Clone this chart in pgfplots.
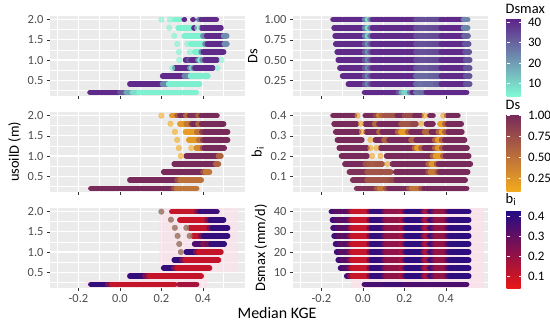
\documentclass[border=0pt]{standalone}
\usepackage{pgfplots}
\pgfplotsset{compat=1.18}
\usepackage{fontspec}
\setmainfont{Carlito}
\definecolor{panelbg}{RGB}{235,235,235}
\definecolor{ticktext}{RGB}{77,77,77}
\definecolor{tickline}{RGB}{51,51,51}
\definecolor{dotbrown}{RGB}{155,118,100}
\definecolor{pinkhaze}{RGB}{252,226,236}
\pgfplotsset{
  colormap={dsmax}{rgb255=(127,250,212) rgb255=(94,32,136)},
  colormap={dsc}{rgb255=(245,172,30) rgb255=(118,40,92)},
  colormap={bic}{rgb255=(232,22,22) rgb255=(32,12,135)},
  panel/.style={
    scale only axis, width=195bp, height=80bp,
    anchor=north west,
    xmin=-0.337, xmax=0.603,
    axis background/.style={fill=panelbg},
    axis line style={draw=none},
    xtick={-0.2,0,0.2,0.4},
    minor xtick={-0.3,-0.1,0.1,0.3,0.5},
    xticklabels={},
    grid=both,
    major grid style={white, line width=1.1bp},
    minor grid style={white, line width=0.5bp},
    tick align=outside, tick pos=left,
    major tick length=3bp, minor tick length=0pt,
    major tick style={tickline, line width=0.55bp},
    ticklabel style={font=\fontsize{12.5}{13}\selectfont, text=ticktext},
    ylabel style={font=\fontsize{14.5}{15}\selectfont},
  },
  xlab/.style={xticklabels={-0.2,0.0,0.2,0.4}},
  yusoil/.style={ymin=0.11, ymax=2.09, ytick={0.5,1,1.5,2}, yticklabels={0.5,1.0,1.5,2.0}, minor ytick={0.25,0.75,1.25,1.75}},
  cmA/.style={colormap name=dsmax, point meta min=4, point meta max=42},
  cmB/.style={colormap name=dsc, point meta min=0.08, point meta max=1.02},
  cmC/.style={colormap name=bic, point meta min=0.04, point meta max=0.43},
  band/.style={mesh, point meta=explicit, line width=5.6bp, line cap=round, unbounded coords=jump, forget plot},
  dots/.style={scatter, only marks, mark=*, mark size=2.8bp, point meta=explicit, scatter/use mapped color={draw=mapped color, fill=mapped color, opacity=0.6}, forget plot},
  bdots/.style={only marks, mark=*, mark size=2.8bp, mark options={draw=dotbrown, fill=dotbrown}, opacity=0.85, forget plot},
  cbarbase/.style={scale only axis, width=15bp, height=78bp,
     at={(parent axis.north east)}, anchor=north west, xshift=10bp, yshift=-2bp,
     axis line style={draw=none}, tick align=inside, ytick pos=both, yticklabel pos=right,
     major tick length=3bp, major tick style={white, line width=0.6bp}, minor tick length=0pt,
     yticklabel style={font=\fontsize{13}{13}\selectfont, text=black, xshift=3bp},
     title style={at={(0,1)}, anchor=south west, font=\fontsize{14.5}{15}\selectfont, inner sep=0pt, yshift=-1.5bp, xshift=-1bp}},
}
\begin{document}
\begin{tikzpicture}
\useasboundingbox (0,0) rectangle (550bp,-326bp);
% ---------------- top left
\begin{axis}[panel, at={(50bp,-16bp)}, yusoil, cmA]
\addplot[dots] coordinates {(0.20,2)[5] (0.241,2)[5] (0.238,1.8)[5] (0.373,1.8)[5] (0.262,1.6)[5] (0.276,1.4)[5] (0.325,1.4)[5] (0.284,1.2)[5] (0.337,1.2)[5] (0.286,1.0)[5] (0.49,1.0)[5] (0.252,0.8)[5] (0.471,0.8)[5]};
\addplot[band] coordinates {(0.262,2)[5] (0.29,2)[5] (nan,nan)[0] (0.31,2)[40] (0.311,2)[40] (nan,nan)[0] (0.352,2)[40] (0.353,2)[40] (nan,nan)[0] (0.38,2)[10] (0.392,2)[40] (0.465,2)[40]};
\addplot[band] coordinates {(0.281,1.8)[5] (0.344,1.8)[6] (nan,nan)[0] (0.357,1.8)[40] (0.358,1.8)[40] (nan,nan)[0] (0.392,1.8)[40] (0.487,1.8)[40]};
\addplot[band] coordinates {(0.31,1.6)[5] (0.40,1.6)[6] (0.418,1.6)[40] (0.50,1.6)[40] (0.515,1.6)[6]};
\addplot[band] coordinates {(0.341,1.4)[5] (0.41,1.4)[6] (0.422,1.4)[40] (0.503,1.4)[40] (0.516,1.4)[6]};
\addplot[band] coordinates {(0.36,1.2)[5] (0.392,1.2)[6] (0.402,1.2)[40] (0.50,1.2)[40]};
\addplot[band] coordinates {(0.316,1)[40] (0.33,1)[40] (0.337,1)[28] (0.345,1)[40] (0.376,1)[40] (0.386,1)[6] (0.396,1)[6] (0.41,1)[40] (0.468,1)[40]};
\addplot[band] coordinates {(0.265,0.8)[40] (0.337,0.8)[40] (0.347,0.8)[6] (0.353,0.8)[6] (0.362,0.8)[40] (0.448,0.8)[40]};
\addplot[band] coordinates {(0.206,0.6)[40] (0.31,0.6)[40] (0.318,0.6)[10] (0.328,0.6)[40] (0.34,0.6)[8] (0.424,0.6)[5]};
\addplot[band] coordinates {(0.048,0.4)[40] (0.205,0.4)[40] (0.235,0.4)[7] (0.384,0.4)[5]};
\addplot[band] coordinates {(-0.144,0.2)[40] (0.0,0.2)[40] (0.03,0.2)[25] (0.06,0.2)[12] (0.09,0.2)[6] (0.368,0.2)[5]};
\end{axis}
% ---------------- middle left
\begin{axis}[panel, at={(50bp,-112bp)}, yusoil, cmB, ylabel={usoilD (m)}]
\addplot[dots] coordinates {(0.20,2)[0.1] (0.244,1.8)[0.1] (0.265,1.6)[0.1] (0.276,1.4)[0.1] (0.284,1.2)[0.1] (0.344,1.2)[0.1] (0.294,1.0)[0.1]};
\addplot[band] coordinates {(0.25,2)[0.15] (0.275,2)[0.3] (0.29,2)[0.95] (0.317,2)[1] (0.325,2)[0.15] (0.335,2)[0.9] (0.376,2)[1] (0.383,2)[0.25] (0.392,2)[1] (0.468,2)[1]};
\addplot[band] coordinates {(0.289,1.8)[0.12] (0.32,1.8)[0.3] (0.344,1.8)[0.6] (0.352,1.8)[1] (0.376,1.8)[1] (0.384,1.8)[0.2] (0.394,1.8)[1] (0.5,1.8)[1]};
\addplot[band] coordinates {(0.316,1.6)[0.12] (0.37,1.6)[0.25] (0.395,1.6)[0.7] (0.41,1.6)[1] (0.519,1.6)[1]};
\addplot[band] coordinates {(0.332,1.4)[0.12] (0.38,1.4)[0.3] (0.40,1.4)[0.7] (0.41,1.4)[1] (0.519,1.4)[1]};
\addplot[band] coordinates {(0.368,1.2)[0.3] (0.398,1.2)[0.35] (0.408,1.2)[1] (0.503,1.2)[1]};
\addplot[band] coordinates {(0.32,1)[1] (0.475,1)[1] (0.487,1)[0.2]};
\addplot[band] coordinates {(0.262,0.8)[1] (0.462,0.8)[1] (0.475,0.8)[0.2]};
\addplot[band] coordinates {(0.211,0.6)[1] (0.40,0.6)[1] (0.412,0.6)[0.45] (0.432,0.6)[0.45]};
\addplot[band] coordinates {(0.048,0.4)[1] (0.275,0.4)[1] (0.29,0.4)[0.5] (0.392,0.4)[0.5]};
\addplot[band] coordinates {(-0.14,0.2)[1] (0.258,0.2)[1] (0.272,0.2)[0.5] (0.37,0.2)[0.45]};
\end{axis}
% ---------------- bottom left
\begin{axis}[panel, at={(50bp,-208bp)}, yusoil, cmC, xlab]
\addplot[draw=none, fill=pinkhaze, fill opacity=0.6, forget plot] coordinates {(0.19,2.09) (0.57,2.09) (0.57,0.5) (0.42,0.5) (0.42,0.11) (-0.17,0.11) (-0.17,0.3) (0.03,0.3) (0.03,0.5) (0.19,0.5)} -- cycle;
\addplot[bdots] coordinates {(0.20,2) (0.246,1.8) (0.265,1.6) (0.32,1.6) (0.278,1.4) (0.336,1.4) (0.286,1.2) (0.294,1.0)};
\addplot[band] coordinates {(0.25,2)[0.1] (0.37,2)[0.12] (0.385,2)[0.35] (0.468,2)[0.4]};
\addplot[band] coordinates {(0.289,1.8)[0.1] (0.42,1.8)[0.1] (0.435,1.8)[0.38] (0.5,1.8)[0.4]};
\addplot[band] coordinates {(0.336,1.6)[0.1] (0.43,1.6)[0.12] (0.445,1.6)[0.38] (0.519,1.6)[0.4]};
\addplot[band] coordinates {(0.352,1.4)[0.1] (0.39,1.4)[0.12] (0.405,1.4)[0.38] (0.519,1.4)[0.4]};
\addplot[band] coordinates {(0.36,1.2)[0.38] (0.40,1.2)[0.3] (0.42,1.2)[0.17] (0.44,1.2)[0.38] (0.503,1.2)[0.4]};
\addplot[band] coordinates {(0.32,1)[0.4] (0.365,1)[0.38] (0.38,1)[0.12] (0.487,1)[0.1]};
\addplot[band] coordinates {(0.262,0.8)[0.4] (0.30,0.8)[0.38] (0.315,0.8)[0.12] (0.475,0.8)[0.1]};
\addplot[band] coordinates {(0.211,0.6)[0.4] (0.26,0.6)[0.38] (0.275,0.6)[0.12] (0.432,0.6)[0.1]};
\addplot[band] coordinates {(0.048,0.4)[0.4] (0.12,0.4)[0.38] (0.14,0.4)[0.12] (0.392,0.4)[0.1]};
\addplot[band] coordinates {(-0.14,0.2)[0.4] (-0.06,0.2)[0.38] (-0.04,0.2)[0.12] (0.265,0.2)[0.1] (nan,nan)[0] (0.285,0.2)[0.17] (0.37,0.2)[0.17]};
\end{axis}
% ---------------- top right
\begin{axis}[panel, at={(293bp,-16bp)}, cmA, ylabel={Ds},
  ymin=0.055, ymax=1.045, ytick={0.25,0.5,0.75,1}, yticklabels={0.25,0.50,0.75,1.00}, minor ytick={0.125,0.375,0.625,0.875},
  colorbar right, colorbar style={cbarbase, title={Dsmax}, ytick={10,20,30,40}, yticklabels={10,20,30,40}}]
\addplot[band] coordinates {(-0.144,1)[40] (0.008,1)[40] (0.022,1)[8] (0.034,1)[8] (0.046,1)[40] (0.255,1)[40] (0.265,1)[28] (0.275,1)[40] (0.288,1)[27] (0.30,1)[40] (0.313,1)[27] (0.326,1)[40] (0.34,1)[28] (0.352,1)[40] (0.365,1)[29] (0.378,1)[40] (0.485,1)[40] (0.505,1)[8]};
\addplot[band] coordinates {(-0.139,0.9)[40] (0.008,0.9)[40] (0.022,0.9)[8] (0.034,0.9)[8] (0.046,0.9)[40] (0.255,0.9)[40] (0.265,0.9)[28] (0.275,0.9)[40] (0.288,0.9)[27] (0.30,0.9)[40] (0.313,0.9)[27] (0.326,0.9)[40] (0.34,0.9)[28] (0.352,0.9)[40] (0.365,0.9)[29] (0.378,0.9)[40] (0.485,0.9)[40] (0.505,0.9)[8]};
\addplot[band] coordinates {(-0.134,0.8)[40] (0.008,0.8)[40] (0.022,0.8)[10] (0.034,0.8)[10] (0.046,0.8)[40] (0.255,0.8)[40] (0.265,0.8)[28] (0.275,0.8)[40] (0.288,0.8)[27] (0.30,0.8)[40] (0.313,0.8)[27] (0.326,0.8)[40] (0.34,0.8)[28] (0.352,0.8)[40] (0.365,0.8)[29] (0.378,0.8)[40] (0.487,0.8)[40] (0.507,0.8)[20]};
\addplot[band] coordinates {(-0.131,0.7)[40] (0.008,0.7)[40] (0.022,0.7)[22] (0.034,0.7)[22] (0.046,0.7)[40] (0.255,0.7)[40] (0.265,0.7)[28] (0.275,0.7)[40] (0.288,0.7)[27] (0.30,0.7)[40] (0.313,0.7)[27] (0.326,0.7)[40] (0.34,0.7)[28] (0.352,0.7)[40] (0.365,0.7)[29] (0.378,0.7)[40] (0.49,0.7)[40] (0.51,0.7)[25]};
\addplot[band] coordinates {(-0.124,0.6)[40] (0.008,0.6)[40] (0.022,0.6)[22] (0.034,0.6)[22] (0.046,0.6)[40] (0.255,0.6)[40] (0.265,0.6)[28] (0.275,0.6)[40] (0.288,0.6)[27] (0.30,0.6)[40] (0.313,0.6)[27] (0.326,0.6)[40] (0.34,0.6)[28] (0.352,0.6)[40] (0.365,0.6)[29] (0.378,0.6)[40] (0.493,0.6)[40] (0.513,0.6)[25]};
\addplot[band] coordinates {(-0.119,0.5)[40] (0.008,0.5)[40] (0.022,0.5)[24] (0.034,0.5)[24] (0.046,0.5)[40] (0.255,0.5)[40] (0.265,0.5)[28] (0.275,0.5)[40] (0.288,0.5)[27] (0.30,0.5)[40] (0.313,0.5)[27] (0.326,0.5)[40] (0.34,0.5)[28] (0.352,0.5)[40] (0.365,0.5)[29] (0.378,0.5)[40] (0.495,0.5)[40] (0.515,0.5)[25]};
\addplot[band] coordinates {(-0.111,0.4)[40] (0.008,0.4)[40] (0.022,0.4)[24] (0.034,0.4)[24] (0.046,0.4)[40] (0.255,0.4)[40] (0.265,0.4)[26] (0.275,0.4)[40] (0.288,0.4)[24] (0.30,0.4)[40] (0.313,0.4)[24] (0.326,0.4)[40] (0.34,0.4)[26] (0.352,0.4)[40] (0.365,0.4)[28] (0.378,0.4)[40] (0.495,0.4)[40] (0.515,0.4)[25]};
\addplot[band] coordinates {(-0.098,0.3)[40] (0.008,0.3)[40] (0.022,0.3)[24] (0.034,0.3)[24] (0.046,0.3)[40] (0.255,0.3)[40] (0.265,0.3)[18] (0.275,0.3)[40] (0.288,0.3)[18] (0.30,0.3)[40] (0.313,0.3)[18] (0.326,0.3)[40] (0.34,0.3)[20] (0.352,0.3)[40] (0.365,0.3)[22] (0.378,0.3)[40] (0.495,0.3)[40] (0.515,0.3)[25]};
\addplot[band] coordinates {(-0.070,0.2)[40] (0.008,0.2)[40] (0.022,0.2)[24] (0.034,0.2)[24] (0.046,0.2)[40] (0.255,0.2)[40] (0.265,0.2)[18] (0.275,0.2)[40] (0.288,0.2)[16] (0.30,0.2)[40] (0.313,0.2)[18] (0.326,0.2)[40] (0.34,0.2)[18] (0.352,0.2)[40] (0.365,0.2)[22] (0.378,0.2)[40] (0.495,0.2)[40] (0.515,0.2)[25]};
\addplot[band] coordinates {(0.008,0.1)[40] (0.17,0.1)[40] (0.185,0.1)[25] (0.198,0.1)[10] (0.225,0.1)[10] (0.238,0.1)[40] (0.255,0.1)[40] (0.265,0.1)[14] (0.278,0.1)[40] (0.29,0.1)[16] (0.305,0.1)[40] (0.50,0.1)[40]};
\end{axis}
% ---------------- middle right
\begin{axis}[panel, at={(293bp,-112bp)}, cmB, ylabel={b\textsubscript{i}},
  ymin=0.022, ymax=0.418, ytick={0.1,0.2,0.3,0.4}, yticklabels={0.1,0.2,0.3,0.4}, minor ytick={0.05,0.15,0.25,0.35},
  colorbar right, colorbar style={cbarbase, title={Ds}, ytick={0.25,0.5,0.75,1}, yticklabels={0.25,0.50,0.75,1.00}}]
\addplot[dots] coordinates {(-0.026,0.4)[0.15] (0.297,0.4)[0.15] (0.387,0.4)[0.15] (-0.01,0.36)[0.15] (0.281,0.36)[0.15] (-0.005,0.32)[0.15] (0.036,0.28)[0.15] (0.036,0.24)[0.15] (0.065,0.24)[0.15] (0.044,0.2)[0.15] (0.085,0.2)[0.15] (0.118,0.16)[0.15]};
\addplot[band] coordinates {(-0.144,0.4)[1] (-0.04,0.4)[1] (nan,nan)[0] (0.011,0.4)[1] (0.06,0.4)[1] (0.075,0.4)[0.6] (0.09,0.4)[0.2] (0.105,0.4)[1] (0.12,0.4)[0.4] (0.135,0.4)[1] (0.15,0.4)[0.4] (0.165,0.4)[1] (0.2,0.4)[1] (0.21,0.4)[0.5] (0.25,0.4)[1] (0.28,0.4)[1] (nan,nan)[0] (0.322,0.4)[1] (0.338,0.4)[1] (nan,nan)[0] (0.404,0.4)[1] (0.458,0.4)[1]};
\addplot[band] coordinates {(-0.139,0.36)[1] (-0.03,0.36)[1] (nan,nan)[0] (0.011,0.36)[1] (0.056,0.36)[1] (0.065,0.36)[0.15] (0.077,0.36)[1] (0.183,0.36)[1] (0.195,0.36)[0.4] (0.21,0.36)[1] (0.225,0.36)[0.4] (0.24,0.36)[1] (0.257,0.36)[0.6] (nan,nan)[0] (0.306,0.36)[1] (0.338,0.36)[1] (nan,nan)[0] (0.371,0.36)[0.15] (0.395,0.36)[0.2] (0.41,0.36)[1] (0.474,0.36)[1]};
\addplot[band] coordinates {(-0.131,0.32)[1] (-0.021,0.32)[1] (nan,nan)[0] (0.016,0.32)[1] (0.077,0.32)[1] (0.085,0.32)[0.15] (0.093,0.32)[1] (0.167,0.32)[1] (0.183,0.32)[0.2] (0.216,0.32)[0.2] (0.232,0.32)[1] (0.297,0.32)[1] (0.314,0.32)[0.15] (0.33,0.32)[1] (0.363,0.32)[1] (0.379,0.32)[0.15] (0.395,0.32)[0.2] (0.412,0.32)[1] (0.477,0.32)[1]};
\addplot[band] coordinates {(-0.123,0.28)[1] (-0.005,0.28)[1] (nan,nan)[0] (0.06,0.28)[1] (0.101,0.28)[1] (0.115,0.28)[0.2] (0.126,0.28)[1] (0.232,0.28)[1] (0.245,0.28)[0.2] (0.257,0.28)[1] (0.346,0.28)[1] (0.36,0.28)[0.2] (0.379,0.28)[0.2] (0.395,0.28)[1] (0.49,0.28)[1]};
\addplot[band] coordinates {(-0.114,0.24)[1] (0.02,0.24)[1] (nan,nan)[0] (0.085,0.24)[1] (0.248,0.24)[1] (0.26,0.24)[0.2] (0.28,0.24)[0.2] (0.297,0.24)[1] (0.346,0.24)[1] (0.36,0.24)[0.2] (0.38,0.24)[0.25] (0.395,0.24)[1] (0.502,0.24)[1]};
\addplot[band] coordinates {(-0.103,0.2)[1] (0.02,0.2)[1] (nan,nan)[0] (0.114,0.2)[1] (0.335,0.2)[1] (0.35,0.2)[0.2] (0.385,0.2)[0.2] (0.398,0.2)[1] (0.51,0.2)[1]};
\addplot[band] coordinates {(-0.087,0.16)[1] (0.011,0.16)[1] (0.025,0.16)[0.5] (0.04,0.16)[0.9] (0.055,0.16)[0.4] (0.07,0.16)[0.9] (0.093,0.16)[0.5] (nan,nan)[0] (0.142,0.16)[1] (0.314,0.16)[1] (0.33,0.16)[0.2] (0.355,0.16)[0.25] (0.365,0.16)[1] (0.518,0.16)[1]};
\addplot[band] coordinates {(-0.065,0.12)[1] (0.02,0.12)[0.9] (0.035,0.12)[0.5] (0.05,0.12)[0.9] (0.065,0.12)[0.5] (0.08,0.12)[0.9] (0.1,0.12)[0.5] (0.115,0.12)[0.9] (0.134,0.12)[0.5] (nan,nan)[0] (0.158,0.12)[1] (0.314,0.12)[1] (0.325,0.12)[0.45] (0.36,0.12)[0.45] (0.371,0.12)[1] (0.505,0.12)[1]};
\addplot[band] coordinates {(-0.049,0.08)[1] (0.02,0.08)[0.9] (0.035,0.08)[0.5] (0.05,0.08)[0.9] (0.07,0.08)[0.5] (0.09,0.08)[0.9] (0.11,0.08)[0.5] (0.126,0.08)[0.9] (0.14,0.08)[0.55] (0.16,0.08)[1] (0.493,0.08)[1]};
\addplot[band] coordinates {(-0.03,0.04)[1] (0.065,0.04)[0.9] (0.08,0.04)[0.45] (0.11,0.04)[0.45] (0.125,0.04)[1] (0.22,0.04)[1] (0.235,0.04)[0.45] (0.28,0.04)[0.5] (0.295,0.04)[1] (0.50,0.04)[1]};
\end{axis}
% ---------------- bottom right
\begin{axis}[panel, at={(293bp,-208bp)}, cmC, xlab, ylabel={Dsmax (mm/d)},
  ymin=2.2, ymax=41.8, ytick={10,20,30,40}, yticklabels={10,20,30,40}, minor ytick={5,15,25,35},
  colorbar right, colorbar style={cbarbase, title={b\textsubscript{i}}, ytick={0.1,0.2,0.3,0.4}, yticklabels={0.1,0.2,0.3,0.4}}]
\addplot[draw=none, fill=pinkhaze, fill opacity=0.8, forget plot] coordinates {(-0.058,2.2) (0.585,2.2) (0.585,41.8) (-0.058,41.8)} -- cycle;
\addplot[band] coordinates {(-0.152,40)[0.4] (-0.132,40)[0.33] (-0.062,40)[0.3] (-0.05,40)[0.1] (0.03,40)[0.11] (0.042,40)[0.4] (0.1,40)[0.38] (0.112,40)[0.22] (0.185,40)[0.2] (0.198,40)[0.12] (0.21,40)[0.4] (0.29,40)[0.4] (0.30,40)[0.15] (0.318,40)[0.15] (0.328,40)[0.4] (0.338,40)[0.38] (0.35,40)[0.2] (0.405,40)[0.2] (0.418,40)[0.4] (0.51,40)[0.4]};
\addplot[band] coordinates {(-0.147,36)[0.4] (-0.127,36)[0.33] (-0.062,36)[0.3] (-0.05,36)[0.1] (0.03,36)[0.11] (0.042,36)[0.4] (0.1,36)[0.38] (0.112,36)[0.22] (0.185,36)[0.2] (0.198,36)[0.12] (0.21,36)[0.4] (0.29,36)[0.4] (0.30,36)[0.15] (0.318,36)[0.15] (0.328,36)[0.4] (0.338,36)[0.38] (0.35,36)[0.2] (0.405,36)[0.2] (0.418,36)[0.4] (0.51,36)[0.4]};
\addplot[band] coordinates {(-0.144,32)[0.4] (-0.124,32)[0.33] (-0.062,32)[0.3] (-0.05,32)[0.1] (0.03,32)[0.11] (0.042,32)[0.4] (0.1,32)[0.38] (0.112,32)[0.22] (0.185,32)[0.2] (0.198,32)[0.12] (0.21,32)[0.4] (0.29,32)[0.4] (0.30,32)[0.15] (0.318,32)[0.15] (0.328,32)[0.4] (0.338,32)[0.38] (0.35,32)[0.2] (0.405,32)[0.2] (0.418,32)[0.4] (0.51,32)[0.4]};
\addplot[band] coordinates {(-0.139,28)[0.4] (-0.119,28)[0.33] (-0.062,28)[0.3] (-0.05,28)[0.1] (0.03,28)[0.11] (0.042,28)[0.4] (0.1,28)[0.38] (0.112,28)[0.22] (0.185,28)[0.2] (0.198,28)[0.12] (0.21,28)[0.4] (0.29,28)[0.4] (0.30,28)[0.15] (0.318,28)[0.15] (0.328,28)[0.4] (0.338,28)[0.38] (0.35,28)[0.2] (0.405,28)[0.2] (0.418,28)[0.4] (0.51,28)[0.4]};
\addplot[band] coordinates {(-0.132,24)[0.4] (-0.112,24)[0.33] (-0.062,24)[0.3] (-0.05,24)[0.1] (0.03,24)[0.11] (0.042,24)[0.4] (0.1,24)[0.38] (0.112,24)[0.22] (0.185,24)[0.2] (0.198,24)[0.12] (0.21,24)[0.4] (0.29,24)[0.4] (0.30,24)[0.15] (0.318,24)[0.15] (0.328,24)[0.4] (0.338,24)[0.38] (0.35,24)[0.2] (0.405,24)[0.2] (0.418,24)[0.4] (0.51,24)[0.4]};
\addplot[band] coordinates {(-0.127,20)[0.4] (-0.107,20)[0.33] (-0.062,20)[0.3] (-0.05,20)[0.1] (0.03,20)[0.11] (0.042,20)[0.4] (0.1,20)[0.38] (0.112,20)[0.22] (0.185,20)[0.2] (0.198,20)[0.12] (0.21,20)[0.4] (0.29,20)[0.4] (0.30,20)[0.15] (0.318,20)[0.15] (0.328,20)[0.4] (0.338,20)[0.38] (0.35,20)[0.2] (0.405,20)[0.2] (0.418,20)[0.4] (0.51,20)[0.4]};
\addplot[band] coordinates {(-0.119,16)[0.4] (-0.099,16)[0.33] (-0.062,16)[0.3] (-0.05,16)[0.1] (0.03,16)[0.11] (0.042,16)[0.4] (0.1,16)[0.38] (0.112,16)[0.22] (0.185,16)[0.2] (0.198,16)[0.12] (0.21,16)[0.4] (0.29,16)[0.4] (0.30,16)[0.15] (0.318,16)[0.15] (0.328,16)[0.4] (0.338,16)[0.38] (0.35,16)[0.2] (0.405,16)[0.2] (0.418,16)[0.4] (0.51,16)[0.4]};
\addplot[band] coordinates {(-0.108,12)[0.4] (-0.088,12)[0.33] (-0.062,12)[0.3] (-0.05,12)[0.1] (0.03,12)[0.11] (0.042,12)[0.4] (0.1,12)[0.38] (0.112,12)[0.22] (0.185,12)[0.2] (0.198,12)[0.12] (0.21,12)[0.4] (0.29,12)[0.4] (0.30,12)[0.15] (0.318,12)[0.15] (0.328,12)[0.4] (0.338,12)[0.38] (0.35,12)[0.2] (0.405,12)[0.2] (0.418,12)[0.4] (0.51,12)[0.4]};
\addplot[band] coordinates {(-0.078,8)[0.4] (-0.062,8)[0.3] (-0.05,8)[0.1] (0.03,8)[0.11] (0.042,8)[0.4] (0.1,8)[0.38] (0.112,8)[0.22] (0.185,8)[0.2] (0.198,8)[0.12] (0.21,8)[0.4] (0.29,8)[0.4] (0.30,8)[0.15] (0.318,8)[0.15] (0.328,8)[0.4] (0.338,8)[0.38] (0.35,8)[0.2] (0.405,8)[0.2] (0.418,8)[0.4] (0.51,8)[0.4]};
\addplot[band] coordinates {(0.007,4)[0.4] (0.03,4)[0.3] (0.045,4)[0.4] (0.06,4)[0.3] (0.075,4)[0.4] (0.09,4)[0.3] (0.105,4)[0.4] (0.2,4)[0.33] (0.5,4)[0.35]};
\end{axis}
\node[font=\fontsize{16}{16}\selectfont] at (277bp,-313bp) {Median KGE};
\end{tikzpicture}
\end{document}
